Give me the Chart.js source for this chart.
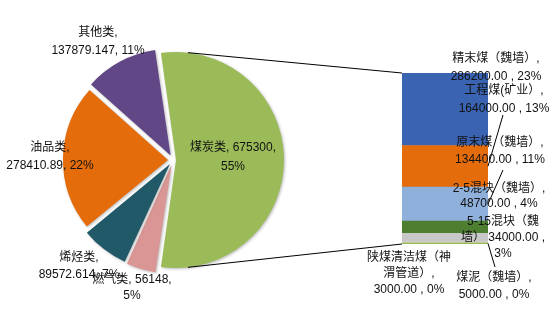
<!DOCTYPE html>
<html>
<head>
<meta charset="utf-8">
<script src="https://cdn.jsdelivr.net/npm/chart.js@4.4.1/dist/chart.umd.min.js"></script>
<style>
  html, body { margin: 0; padding: 0; background: #fff; }
  #wrap { position: relative; width: 555px; height: 312px; }
  #wrap canvas { position: absolute; left: 0; top: 0; }
</style>
</head>
<body>
<div id="wrap">
  <canvas id="pie" width="555" height="312"></canvas>
  <canvas id="bar" width="555" height="312"></canvas>
</div>
<script>
// pie: main categories (clockwise from the split-off slice)
const pieNames = ["煤炭类", "燃气类", "烯烃类", "油品类", "其他类"];
const pieValues = [675300, 56148, 89572.614, 278410.89, 137879.147];
const piePercents = [55, 5, 7, 22, 11];

// bar: breakdown of 煤炭类 (top to bottom)
const coalNames = ["精末煤（魏墙）", "工程煤(矿业）", "原末煤（魏墙）", "2-5混块（魏墙）",
  "5-15混块（魏墙）", "陕煤清洁煤（神渭管道）", "煤泥（魏墙）"];
const coalValues = [286200, 164000, 134400, 48700, 34000, 3000, 5000];
const coalPercents = [23, 13, 11, 4, 3, 0, 0];

const pieColors = ["#9BBB59", "#D99694", "#215968", "#E46C0A", "#624786"];
const coalColors = ["#3A63B1", "#E46C0A", "#8EB0DA", "#4E7F30", "#C8C8C8", "#D8D8D8", "#9BBB59"];

const FONT = '12px "Liberation Sans", "Noto Sans CJK SC", sans-serif';
const TEXT = "#111";

const fmt2 = (v) => v.toFixed(2);

// label placement (centre x, first line y, line gap)
const pieLabels = [
  { x: 233, y: 148, gap: 19, lines: [pieNames[0] + ", " + pieValues[0] + ",", piePercents[0] + "%"] },
  { x: 132, y: 280, gap: 16, lines: [pieNames[1] + ", " + pieValues[1] + ",", piePercents[1] + "%"] },
  { x: 79, y: 258, gap: 17, lines: [pieNames[2] + ",", pieValues[2] + ", " + piePercents[2] + "%"] },
  { x: 50, y: 148, gap: 18, lines: [pieNames[3] + ",", pieValues[3] + ", " + piePercents[3] + "%"] },
  { x: 98, y: 33, gap: 18, lines: [pieNames[4] + ",", pieValues[4] + ", " + piePercents[4] + "%"] },
];

const coalLine = (i) => fmt2(coalValues[i]) + " , " + coalPercents[i] + "%";
const barLabels = [
  { x: 496, y: 59, gap: 18, lines: [coalNames[0] + ",", coalLine(0)] },
  { x: 504, y: 91, gap: 18, lines: [coalNames[1] + ",", coalLine(1)] },
  { x: 500, y: 143, gap: 17, lines: [coalNames[2] + ",", coalLine(2)] },
  { x: 499, y: 189, gap: 15, lines: [coalNames[3] + ",", coalLine(3)] },
  { x: 503, y: 222, gap: 16, lines: [coalNames[4].slice(0, 8), coalNames[4].slice(8) + " " + fmt2(coalValues[4]) + " ,", coalPercents[4] + "%"] },
  { x: 409, y: 258, gap: 16, lines: [coalNames[5].slice(0, 7), coalNames[5].slice(7) + ",", coalLine(5)] },
  { x: 494, y: 278, gap: 17, lines: [coalNames[6] + ",", coalLine(6)] },
];

// leader lines: label end -> bar segment
const leaders = [
  { from: [503, 115], seg: 1 },
  { from: [503, 170], seg: 2 },
  { seg: 6, to: [495, 267] },
];

function drawLabels(ctx, list) {
  ctx.save();
  ctx.font = FONT;
  ctx.fillStyle = TEXT;
  ctx.textAlign = "center";
  ctx.textBaseline = "middle";
  list.forEach((l) => {
    l.lines.forEach((s, k) => ctx.fillText(s, l.x, l.y + k * l.gap));
  });
  ctx.restore();
}

const pieTotal = pieValues.reduce((a, b) => a + b, 0);
const coalTotal = coalValues.reduce((a, b) => a + b, 0);

const pieChart = new Chart(document.getElementById("pie"), {
  type: "pie",
  data: {
    labels: pieNames,
    datasets: [{
      data: pieValues,
      backgroundColor: pieColors,
      borderWidth: 0,
      offset: [12, 20, 20, 20, 20],
    }],
  },
  options: {
    responsive: false,
    animation: false,
    radius: 105,
    rotation: 90 - (pieValues[0] / pieTotal) * 180,
    layout: { padding: { left: 0, right: 209, top: 8, bottom: 0 } },
    plugins: { legend: { display: false }, tooltip: { enabled: false } },
  },
  plugins: [{
    id: "pieExtras",
    beforeDatasetsDraw(chart) {
      const ctx = chart.ctx;
      ctx.save();
      ctx.shadowColor = "rgba(0,0,0,0.28)";
      ctx.shadowBlur = 3;
      ctx.shadowOffsetX = 1;
      ctx.shadowOffsetY = 1;
    },
    afterDatasetsDraw(chart) {
      chart.ctx.restore();
      drawLabels(chart.ctx, pieLabels);
    },
  }],
});

const barChart = new Chart(document.getElementById("bar"), {
  type: "bar",
  data: {
    labels: [""],
    // first dataset is stacked at the bottom
    datasets: coalNames.map((n, i) => ({
      label: n,
      data: [coalValues[i]],
      backgroundColor: coalColors[i],
      borderWidth: 0,
      barPercentage: 1,
      categoryPercentage: 1,
    })).reverse(),
  },
  options: {
    responsive: false,
    animation: false,
    layout: { padding: { left: 402, right: 67, top: 73, bottom: 68 } },
    scales: {
      x: { stacked: true, display: false },
      y: { stacked: true, display: false, min: 0, max: coalTotal },
    },
    plugins: { legend: { display: false }, tooltip: { enabled: false } },
  },
  plugins: [{
    id: "barExtras",
    afterDatasetsDraw(chart) {
      const ctx = chart.ctx;
      const n = coalNames.length;
      const seg = (i) => chart.getDatasetMeta(n - 1 - i).data[0];
      const topEl = seg(0);
      const botEl = seg(n - 1);
      const left = topEl.x - topEl.width / 2;
      const right = topEl.x + topEl.width / 2;

      // connectors from the split slice of the pie
      const arc = pieChart.getDatasetMeta(0).data[0];
      const off = (arc.options.offset || 0) / 4;
      const mid = (arc.startAngle + arc.endAngle) / 2;
      const cx = arc.x + Math.cos(mid) * off;
      const cy = arc.y + Math.sin(mid) * off;
      const R = arc.outerRadius + off;
      const a1 = -Math.PI / 2 + 0.11;
      const a2 = Math.PI / 2 - 0.11;

      ctx.save();
      ctx.strokeStyle = "#000";
      ctx.lineWidth = 1;
      ctx.beginPath();
      ctx.moveTo(cx + R * Math.cos(a1), cy + R * Math.sin(a1));
      ctx.lineTo(left, topEl.y);
      ctx.moveTo(cx + R * Math.cos(a2), cy + R * Math.sin(a2));
      ctx.lineTo(left, botEl.base);
      ctx.stroke();

      // leader lines
      ctx.beginPath();
      leaders.forEach((l) => {
        const el = seg(l.seg);
        const p = [right, (el.y + el.base) / 2];
        if (l.from) {
          ctx.moveTo(l.from[0], l.from[1]);
          ctx.lineTo(p[0], p[1]);
        } else {
          ctx.moveTo(p[0], p[1]);
          ctx.lineTo(l.to[0], l.to[1]);
        }
      });
      ctx.stroke();
      ctx.restore();

      drawLabels(ctx, barLabels);
    },
  }],
});
</script>
</body>
</html>
